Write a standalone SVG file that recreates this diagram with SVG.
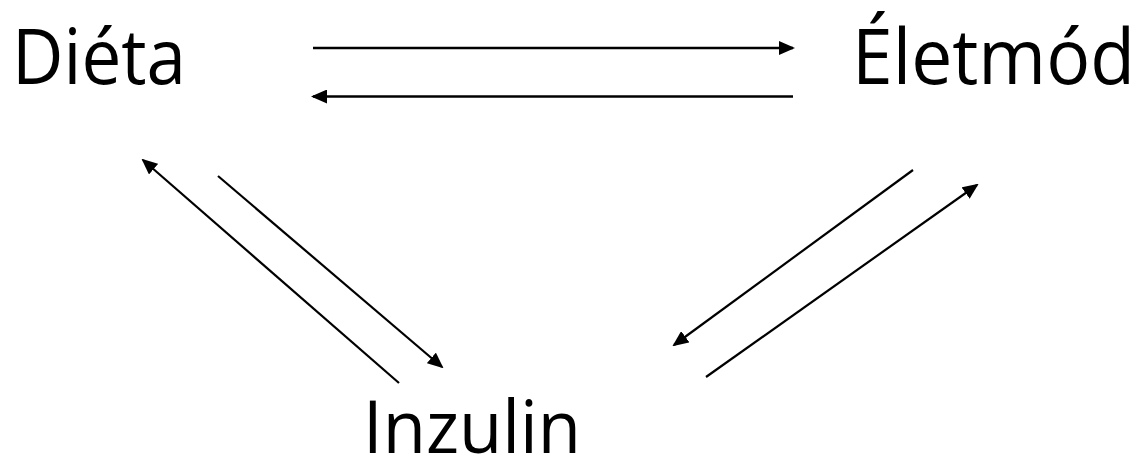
<svg xmlns="http://www.w3.org/2000/svg" width="1141" height="457" viewBox="0 0 1141 457">
<style>
.lbl{font-family:"Open Sans","Noto Sans","Liberation Sans",sans-serif;fill:#000}
.c{stroke:#000;fill:none}
.h{stroke-width:2.6}
.d{stroke-width:2.2}
</style>
<defs>
<marker id="ah" markerUnits="userSpaceOnUse" markerWidth="16" markerHeight="14" refX="14" refY="7" orient="auto">
<path d="M0,0 L16,7 L0,14 z" fill="#000"/>
</marker>
<marker id="ad" markerUnits="userSpaceOnUse" markerWidth="16" markerHeight="14" refX="14" refY="7" orient="auto">
<path d="M0,0 L16,7 L0,14 z" fill="#000"/>
</marker>
</defs>
<rect width="1141" height="457" fill="#fff"/>
<g id="node-dieta"><text class="lbl" x="12" y="84" font-size="76" textLength="174" lengthAdjust="spacingAndGlyphs">Diéta</text></g>
<g id="node-eletmod"><text class="lbl" x="852" y="84" font-size="76" textLength="283" lengthAdjust="spacingAndGlyphs">Életmód</text></g>
<g id="node-inzulin"><text class="lbl" x="363" y="453" font-size="73" textLength="218" lengthAdjust="spacingAndGlyphs">Inzulin</text></g>
<g id="connectors">
<line class="c h" x1="313" y1="48" x2="793" y2="48" marker-end="url(#ah)"/>
<line class="c h" x1="793" y1="96.5" x2="313" y2="96.5" marker-end="url(#ah)"/>
<line class="c d" x1="399" y1="383" x2="143" y2="160" marker-end="url(#ad)"/>
<line class="c d" x1="218" y1="176" x2="442" y2="367" marker-end="url(#ad)"/>
<line class="c d" x1="913" y1="170" x2="674" y2="345" marker-end="url(#ad)"/>
<line class="c d" x1="706" y1="377" x2="977" y2="185" marker-end="url(#ad)"/>
</g>
</svg>
